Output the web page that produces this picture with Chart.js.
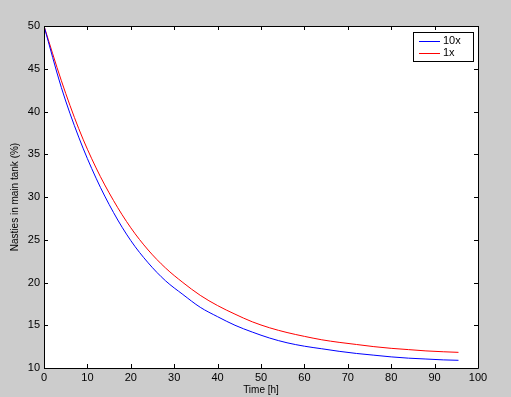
<!DOCTYPE html>
<html>
<head>
<meta charset="utf-8">
<script src="https://cdn.jsdelivr.net/npm/chart.js@4/dist/chart.umd.min.js"></script>
<style>
  html, body { margin: 0; padding: 0; background: #cccccc; }
  #wrap { width: 511px; height: 397px; }
</style>
</head>
<body>
<div id="wrap"><canvas id="chart"></canvas></div>
<script>
// time in hours
const hours = [0, 4, 8, 12, 16, 20, 24, 28, 32, 36, 40, 44, 48, 52, 56, 60, 64, 68, 72, 76, 80, 84, 88, 92, 95.5];
// nasties in main tank (%)
const tenX = [50, 42.8, 37.0, 32.2, 28.2, 24.9, 22.3, 20.2, 18.6, 17.1, 16.0, 15.0, 14.2, 13.5, 12.95, 12.55, 12.25, 11.95, 11.7, 11.5, 11.3, 11.15, 11.05, 10.95, 10.9];
const oneX = [50, 43.6, 38.0, 33.4, 29.6, 26.4, 23.8, 21.7, 20.0, 18.5, 17.3, 16.3, 15.4, 14.7, 14.15, 13.7, 13.3, 13.0, 12.75, 12.5, 12.3, 12.15, 12.0, 11.9, 11.83];
const seriesNames = ['10x', '1x'];
const seriesColors = ['#0000ff', '#ff0000'];
const xTicks = [0, 10, 20, 30, 40, 50, 60, 70, 80, 90, 100];
const yTicks = [10, 15, 20, 25, 30, 35, 40, 45, 50];

const font = "'Liberation Sans', Arial, sans-serif";

// white plot area, black box, inward ticks, legend (matlab style)
const matlabBox = {
    id: 'matlabBox',
    beforeDraw(chart) {
        const a = chart.chartArea;
        const c = chart.ctx;
        c.save();
        c.fillStyle = '#ffffff';
        c.fillRect(a.left, a.top, a.right - a.left, a.bottom - a.top);
        c.restore();
    },
    afterDraw(chart) {
        const a = chart.chartArea;
        const c = chart.ctx;
        const xs = chart.scales.x, ys = chart.scales.y;
        const tl = 4;
        c.save();
        c.strokeStyle = '#000000';
        c.lineWidth = 1;
        c.beginPath();
        c.rect(Math.round(a.left) + 0.5, Math.round(a.top) + 0.5, Math.round(a.right - a.left), Math.round(a.bottom - a.top));
        xTicks.forEach(v => {
            const px = Math.round(xs.getPixelForValue(v)) + 0.5;
            c.moveTo(px, a.bottom); c.lineTo(px, a.bottom - tl);
            c.moveTo(px, a.top); c.lineTo(px, a.top + tl);
        });
        yTicks.forEach(v => {
            const py = Math.round(ys.getPixelForValue(v)) + 0.5;
            c.moveTo(a.left, py); c.lineTo(a.left + tl, py);
            c.moveTo(a.right, py); c.lineTo(a.right - tl, py);
        });
        c.stroke();

        // legend box
        const bx = Math.round(a.right) - 65, by = Math.round(a.top) + 6;
        c.fillStyle = '#ffffff';
        c.fillRect(bx, by, 60, 29);
        c.strokeStyle = '#000000';
        c.strokeRect(bx + 0.5, by + 0.5, 60, 29);
        c.font = '11px ' + font;
        c.textBaseline = 'middle';
        c.textAlign = 'left';
        seriesNames.forEach((name, i) => {
            const ly = by + 9 + i * 12;
            c.fillStyle = seriesColors[i];
            c.fillRect(bx + 6, ly, 21, 1);
            c.fillStyle = '#000000';
            c.fillText(name, bx + 30, ly);
        });
        c.restore();
    }
};

new Chart(document.getElementById('chart'), {
    type: 'line',
    data: {
        datasets: [
            { label: seriesNames[0], data: hours.map((h, i) => ({ x: h, y: tenX[i] })), borderColor: seriesColors[0], borderWidth: 1, pointRadius: 0, cubicInterpolationMode: 'monotone' },
            { label: seriesNames[1], data: hours.map((h, i) => ({ x: h, y: oneX[i] })), borderColor: seriesColors[1], borderWidth: 1, pointRadius: 0, cubicInterpolationMode: 'monotone' }
        ]
    },
    options: {
        responsive: true,
        maintainAspectRatio: false,
        animation: false,
        layout: { padding: { left: 0, right: 33, top: 26, bottom: 0 } },
        plugins: { legend: { display: false }, tooltip: { enabled: false } },
        scales: {
            x: {
                type: 'linear', min: 0, max: 100,
                afterBuildTicks: s => { s.ticks = xTicks.map(v => ({ value: v })); },
                afterFit: s => { s.height = 29; },
                grid: { display: false, drawTicks: false },
                border: { display: false },
                ticks: { color: '#000', font: { family: font, size: 11 }, padding: 3, maxRotation: 0 },
                title: { display: true, text: 'Time [h]', color: '#000', font: { family: font, size: 10 }, padding: { top: 0, bottom: 1 } }
            },
            y: {
                type: 'linear', min: 10, max: 50,
                afterBuildTicks: s => { s.ticks = yTicks.map(v => ({ value: v })); },
                afterFit: s => { s.width = 44; },
                grid: { display: false, drawTicks: false },
                border: { display: false },
                ticks: { color: '#000', font: { family: font, size: 11 }, padding: 4 },
                title: { display: true, text: 'Nasties in main tank (%)', color: '#000', font: { family: font, size: 10 }, padding: { top: 9, bottom: 0 } }
            }
        }
    },
    plugins: [matlabBox]
});
</script>
</body>
</html>
